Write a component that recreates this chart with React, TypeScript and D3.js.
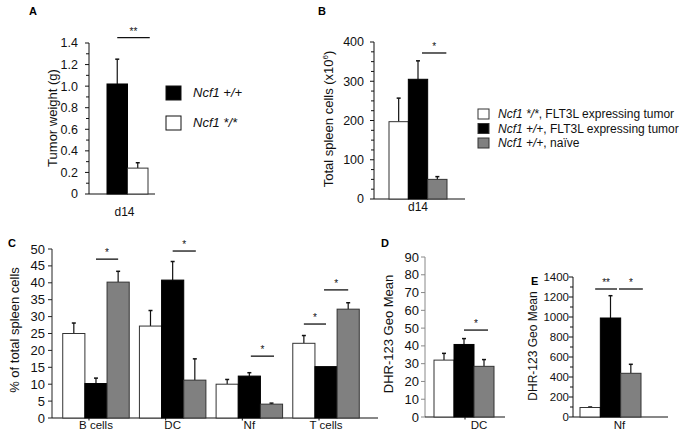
import React from 'react';
import * as d3 from 'd3';

const FONT = "'Liberation Sans', Arial, Helvetica, sans-serif";
const WHITE = '#ffffff';
const BLACK = '#000000';
const GREY = '#808080';

// ---------- Panel A ----------
const aCategories = ['d14'];
const aSeriesNames = ['Ncf1 +/+', 'Ncf1 */*'];
const aValues = [[1.02], [0.24]];
const aErrors = [[1.25], [0.29]];

// ---------- Panel B ----------
const bCategories = ['d14'];
const bLegend = [
  { it: 'Ncf1 */*', rest: ', FLT3L expressing tumor' },
  { it: 'Ncf1 +/+', rest: ', FLT3L expressing tumor' },
  { it: 'Ncf1 +/+', rest: ', naïve' },
];
const bValues = [[197], [305], [50]];
const bErrors = [[257], [352], [57]];

// ---------- Panel C ----------
const cCategories = ['B cells', 'DC', 'Nf', 'T cells'];
const cKo = [25, 27.2, 10, 22.1];
const cWt = [10.2, 40.8, 12.4, 15.2];
const cNaive = [40.2, 11.2, 4.1, 32.2];
const cKoErr = [28.1, 31.8, 11.4, 24.4];
const cWtErr = [11.8, 46.3, 13.4, 15.2];
const cNaiveErr = [43.4, 17.5, 4.4, 34.1];

// ---------- Panel D ----------
const dCategories = ['DC'];
const dValues = [[32], [40.8], [28.5]];
const dErrors = [[35.8], [44.1], [32.3]];

// ---------- Panel E ----------
const eCategories = ['Nf'];
const eValues = [[95], [990], [437]];
const eErrors = [[100], [1213], [527]];

const threeFills = [WHITE, BLACK, GREY];

type Sig = { cat: number; from: number; to: number; value: number; label: string; dx1?: number; dx2?: number };

type PanelCfg = {
  letter: string; letterX: number; letterY: number;
  categories: string[];
  values: number[][]; errors: number[][]; fills: string[];
  bandRange: [number, number]; padInner: number; padOuter: number;
  axisX: number; axisEnd: number;
  yMax: number; yRange: [number, number];
  major: number; minor?: number;
  fmt: (v: number) => string;
  tickFont: number; labelGap: number;
  axisColor: string;
  catLabelY: number; catLabelDx?: number; catTicks?: boolean; catTickDx?: number;
  catFont: number;
  title: React.ReactNode; titleX: number; titleY: number; titleFont: number;
  sigs: Sig[];
};

function Panel({ c }: { c: PanelCfg }) {
  const x0 = d3.scaleBand<string>().domain(c.categories).range(c.bandRange)
    .paddingInner(c.padInner).paddingOuter(c.padOuter);
  const idx = d3.range(c.values.length).map(String);
  const x1 = d3.scaleBand<string>().domain(idx).range([0, x0.bandwidth()]).padding(0);
  const y = d3.scaleLinear().domain([0, c.yMax]).range(c.yRange);
  const majors = d3.range(0, c.yMax + c.major / 2, c.major);
  const minors = c.minor
    ? d3.range(0, c.yMax + c.minor / 2, c.minor).filter(v => Math.abs(v / c.major - Math.round(v / c.major)) > 1e-6)
    : [];
  const cx = (cat: number, s: number) => (x0(c.categories[cat]) as number) + (x1(String(s)) as number) + x1.bandwidth() / 2;
  return (
    <g>
      <text x={c.letterX} y={c.letterY} fontFamily={FONT} fontWeight="bold" fontSize={11}>{c.letter}</text>
      {/* y axis */}
      <line x1={c.axisX} x2={c.axisX} y1={c.yRange[0]} y2={c.yRange[1]} stroke={c.axisColor} strokeWidth={1} />
      {majors.map(v => (
        <g key={'M' + v}>
          <line x1={c.axisX - 4} x2={c.axisX} y1={y(v)} y2={y(v)} stroke={c.axisColor} strokeWidth={1} />
          <text x={c.axisX - c.labelGap} y={y(v)} dy="0.35em" textAnchor="end" fontFamily={FONT} fontSize={c.tickFont} fill="#111">{c.fmt(v)}</text>
        </g>
      ))}
      {minors.map(v => (
        <line key={'m' + v} x1={c.axisX - 3} x2={c.axisX} y1={y(v)} y2={y(v)} stroke={c.axisColor} strokeWidth={1} />
      ))}
      {/* x axis */}
      <line x1={c.axisX} x2={c.axisEnd} y1={c.yRange[0]} y2={c.yRange[0]} stroke="#111" strokeWidth={1} />
      {/* bars */}
      {c.categories.map((cat, ci) => (
        <g key={cat}>
          {c.values.map((vals, si) => {
            const bx = (x0(cat) as number) + (x1(String(si)) as number);
            const top = y(vals[ci]);
            const ex = bx + x1.bandwidth() / 2;
            const ey = y(c.errors[si][ci]);
            return (
              <g key={si}>
                {c.errors[si][ci] > vals[ci] && (
                  <g>
                    <line x1={ex} x2={ex} y1={top} y2={ey} stroke="#111" strokeWidth={1.2} />
                    <line x1={ex - 2} x2={ex + 2} y1={ey} y2={ey} stroke="#111" strokeWidth={1.5} />
                  </g>
                )}
                <rect x={bx} y={top} width={x1.bandwidth()} height={c.yRange[0] - top}
                  fill={c.fills[si]} stroke={c.fills[si] === BLACK ? BLACK : '#333'} strokeWidth={1} />
              </g>
            );
          })}
          {c.catTicks && (
            <line x1={(x0(cat) as number) + x0.bandwidth() / 2 + (c.catTickDx || 0)} x2={(x0(cat) as number) + x0.bandwidth() / 2 + (c.catTickDx || 0)}
              y1={c.yRange[0]} y2={c.yRange[0] + 2.5} stroke="#111" />
          )}
          <text x={(x0(cat) as number) + x0.bandwidth() / 2 + (c.catLabelDx || 0)} y={c.catLabelY} textAnchor="middle"
            fontFamily={FONT} fontSize={c.catFont} fill="#111">{cat}</text>
        </g>
      ))}
      {/* significance */}
      {c.sigs.map((s, i) => {
        const xa = cx(s.cat, s.from) + (s.dx1 || 0);
        const xb = cx(s.cat, s.to) + (s.dx2 || 0);
        const yy = y(s.value);
        return (
          <g key={i}>
            <line x1={xa} x2={xb} y1={yy} y2={yy} stroke="#111" strokeWidth={1.3} />
            <text x={(xa + xb) / 2} y={yy - 3} textAnchor="middle" fontFamily={FONT} fontSize={10} fill="#111">{s.label}</text>
          </g>
        );
      })}
      <text transform={`translate(${c.titleX},${c.titleY}) rotate(-90)`} textAnchor="middle" dy="0.35em"
        fontFamily={FONT} fontSize={c.titleFont} fill="#111">{c.title}</text>
    </g>
  );
}

const panels: PanelCfg[] = [
  {
    letter: 'A', letterX: 29, letterY: 15,
    categories: aCategories, values: aValues, errors: aErrors, fills: [BLACK, WHITE],
    bandRange: [107, 148], padInner: 0, padOuter: 0,
    axisX: 89, axisEnd: 155, yMax: 1.4, yRange: [194, 43], major: 0.2, minor: 0.1,
    fmt: v => (v === 0 ? '0' : v.toFixed(1)), tickFont: 12.5, labelGap: 11, axisColor: '#111',
    catLabelY: 216, catLabelDx: -3, catFont: 12,
    title: 'Tumor weight (g)', titleX: 52, titleY: 118, titleFont: 13,
    sigs: [{ cat: 0, from: 0, to: 1, value: 1.45, label: '**', dx1: 0, dx2: 12 }],
  },
  {
    letter: 'B', letterX: 318, letterY: 15,
    categories: bCategories, values: bValues, errors: bErrors, fills: threeFills,
    bandRange: [389, 447], padInner: 0, padOuter: 0,
    axisX: 374, axisEnd: 465, yMax: 400, yRange: [199, 42], major: 100, minor: 25,
    fmt: v => String(v), tickFont: 12.5, labelGap: 10, axisColor: '#111',
    catLabelY: 211, catFont: 12,
    title: <>Total spleen cells (x10<tspan fontSize={8} dy={-5}>6</tspan><tspan dy={5}>)</tspan></>, titleX: 328, titleY: 119, titleFont: 13,
    sigs: [{ cat: 0, from: 1, to: 2, value: 372, label: '*', dx1: 4, dx2: 9 }],
  },
  {
    letter: 'C', letterX: 8, letterY: 247,
    categories: cCategories, values: [cKo, cWt, cNaive], errors: [cKoErr, cWtErr, cNaiveErr], fills: threeFills,
    bandRange: [52, 370], padInner: 0.133, padOuter: 0.14,
    axisX: 52, axisEnd: 378, yMax: 50, yRange: [418, 249], major: 5,
    fmt: v => String(v), tickFont: 13, labelGap: 7, axisColor: '#222',
    catLabelY: 428.5, catTicks: true, catTickDx: -7, catFont: 11.5,
    title: '% of total spleen cells', titleX: 14, titleY: 330, titleFont: 13,
    sigs: [
      { cat: 0, from: 1, to: 2, value: 47, label: '*' },
      { cat: 1, from: 1, to: 2, value: 49.4, label: '*', dx2: 1 },
      { cat: 2, from: 1, to: 2, value: 18.3, label: '*', dx1: 1.5, dx2: 2.5 },
      { cat: 3, from: 0, to: 1, value: 27.8, label: '*' },
      { cat: 3, from: 1, to: 2, value: 37.9, label: '*', dx1: -2 },
    ],
  },
  {
    letter: 'D', letterX: 381, letterY: 247,
    categories: dCategories, values: dValues, errors: dErrors, fills: threeFills,
    bandRange: [434, 494], padInner: 0, padOuter: 0,
    axisX: 425, axisEnd: 505, yMax: 90, yRange: [417, 257], major: 10,
    fmt: v => String(v), tickFont: 13, labelGap: 6, axisColor: '#888',
    catLabelY: 428.5, catLabelDx: 15, catTicks: true, catTickDx: 1, catFont: 11.5,
    title: 'DHR-123 Geo Mean', titleX: 388, titleY: 334, titleFont: 13,
    sigs: [{ cat: 0, from: 1, to: 2, value: 48.9, label: '*', dx2: 4 }],
  },
  {
    letter: 'E', letterX: 531, letterY: 285,
    categories: eCategories, values: eValues, errors: eErrors, fills: threeFills,
    bandRange: [580, 641], padInner: 0, padOuter: 0,
    axisX: 573, axisEnd: 668, yMax: 1400, yRange: [417, 277], major: 200, minor: 100,
    fmt: v => String(v), tickFont: 11.5, labelGap: 4, axisColor: '#111',
    catLabelY: 428.5, catLabelDx: 9, catFont: 11.5,
    title: 'DHR-123 Geo Mean', titleX: 533, titleY: 346, titleFont: 12,
    sigs: [
      { cat: 0, from: 0, to: 1, value: 1280, label: '**', dx1: 5, dx2: 6.5 },
      { cat: 0, from: 1, to: 2, value: 1280, label: '*', dx1: 8.5, dx2: 12 },
    ],
  },
];

export default function App() {
  return (
    <svg width={683} height={442} style={{ position: 'absolute', left: 0, top: 0, background: '#fff' }}>
      <rect width={683} height={442} fill="#fff" />
      {panels.map(p => <Panel key={p.letter} c={p} />)}
      {/* Legend A */}
      {aSeriesNames.map((n, i) => (
        <g key={n}>
          <rect x={166} y={86 + i * 30} width={15} height={14} fill={[BLACK, WHITE][i]} stroke="#111" strokeWidth={1} />
          <text x={193} y={97 + i * 30} fontFamily={FONT} fontSize={13} fontStyle="italic" fill="#111">{n}</text>
        </g>
      ))}
      {/* Legend B */}
      {bLegend.map((l, i) => (
        <g key={i}>
          <rect x={478} y={109 + i * 14.5} width={11} height={10} fill={threeFills[i]} stroke="#333" strokeWidth={1} />
          <text x={498} y={118 + i * 14.5} fontFamily={FONT} fontSize={12} fill="#111">
            <tspan fontStyle="italic">{l.it}</tspan>{l.rest}
          </text>
        </g>
      ))}
    </svg>
  );
}
